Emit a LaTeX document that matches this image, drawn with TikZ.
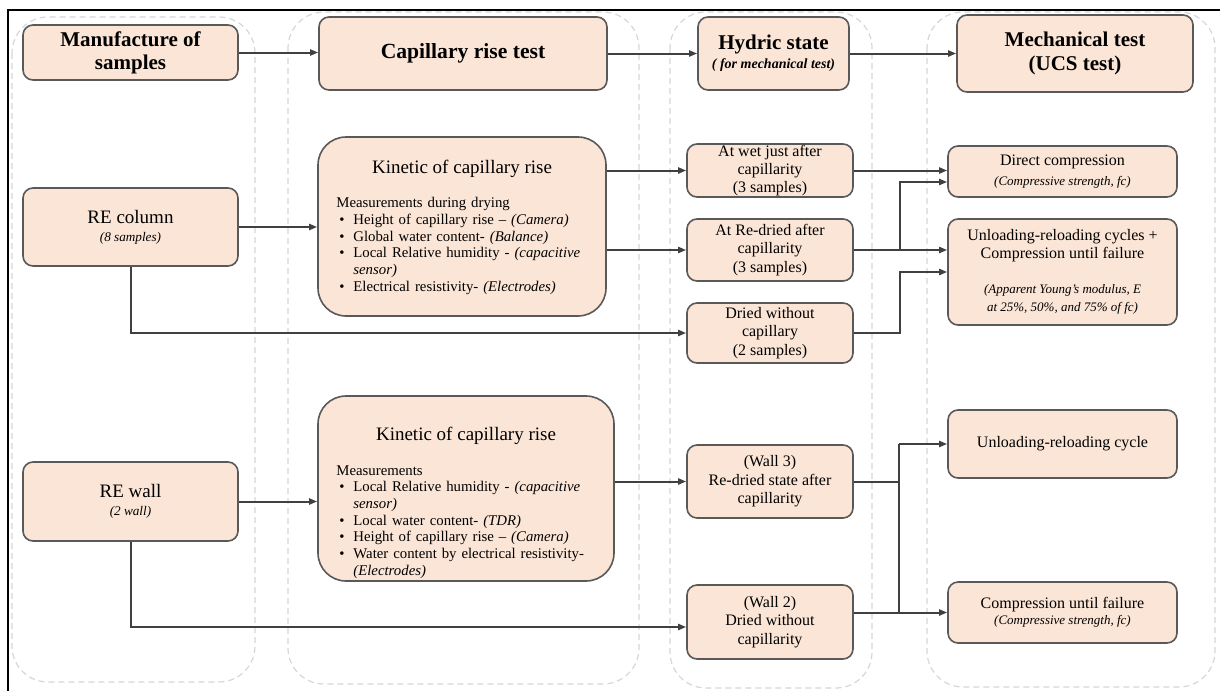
\documentclass[tikz,border=0pt]{standalone}
\usepackage{fontspec}
\setmainfont{Liberation Serif}
\usetikzlibrary{arrows.meta}
\definecolor{boxfill}{HTML}{FBE5D6}
\definecolor{boxline}{HTML}{595959}
\definecolor{arrcol}{HTML}{404040}
\definecolor{lanecol}{HTML}{D6D6D6}
\newcommand{\fs}[2]{\fontsize{#1}{#2}\selectfont}
\newcommand{\bitem}[1]{\par\noindent\hangindent=8.5pt\hangafter=1\makebox[8.5pt][l]{\hspace{1.5pt}\textbullet}#1}
\begin{document}
\begin{tikzpicture}[x=0.5pt,y=-0.5pt,
  box/.style={draw=boxline, fill=boxfill, line width=0.8pt, rounded corners=5pt, inner sep=0pt, align=center},
  bigbox/.style={box, rounded corners=14pt},
  arr/.style={draw=arrcol, line width=1pt, -{Triangle[length=4pt,width=3pt]}},
  ln/.style={draw=arrcol, line width=1pt},
  lane/.style={draw=lanecol, dash pattern=on 3pt off 2pt, line width=0.6pt, rounded corners=18pt},
  head/.style={font=\bfseries\fs{10.5}{11.5}},
  title/.style={font=\fs{9.5}{11}},
  small/.style={font=\fs{8}{9.2}},
  lst/.style={anchor=north west, inner sep=0pt, text width=135pt, align=left, font=\fs{7.4}{8.35}}
]
\useasboundingbox (0,0) rectangle (1220,691);
% lanes
\draw[lane] (12,17) rectangle (255,682);
\draw[lane] (288,12) rectangle (639,684);
\draw[lane] (670,12) rectangle (872,688);
\draw[lane] (927,12) rectangle (1215,687);
% frame
\draw[line width=1.2pt] (8,691) -- (8,10) -- (1220,10);

% header row
\node[box, head, minimum width=107.5pt, minimum height=27.5pt] (manu) at (130.5,52.5) {Manufacture of\\samples};
\node[box, minimum width=144pt, minimum height=36.5pt, font=\bfseries\fs{10.8}{12}] (cap) at (463,53.5) {Capillary rise test};
\node[box, minimum width=75.5pt, minimum height=36.5pt, font=\bfseries\fs{7}{9.5}] (hyd) at (773.5,53.5) {{\fs{10.5}{9.5}Hydric state}\\{\itshape ( for mechanical test)}};
\node[box, head, minimum width=118pt, minimum height=38.5pt, font=\bfseries\fs{10.5}{12}] (mech) at (1075,53.5) {Mechanical test\\(UCS test)};

% row 2
\node[box, minimum width=107.5pt, minimum height=39pt, font=\fs{9.5}{9}] (recol) at (130.5,227) {RE column\\{\itshape\fs{6.6}{9}(8 samples)}};
\node[bigbox, minimum width=144pt, minimum height=89.5pt] (kin1) at (462,226.5) {};
\node[title, inner sep=0pt] (kin1t) at (462,169) {Kinetic of capillary rise};
\node[lst] (kin1l) at (336,197) {Measurements during drying
\bitem{Height of capillary rise -- \textit{(Camera)}}
\bitem{Global water content- \textit{(Balance)}}
\bitem{Local Relative humidity - \textit{(capacitive}\newline\textit{sensor)}}
\bitem{Electrical resistivity- \textit{(Electrodes)}}\par};
\node[box, small, minimum width=83pt, minimum height=26.5pt] (wet) at (770,170.5) {At wet just after\\capillarity\\(3 samples)};
\node[box, small, minimum width=83pt, minimum height=31pt] (redried) at (770,250) {At Re-dried after\\capillarity\\(3 samples)};
\node[box, small, minimum width=83pt, minimum height=30pt] (dried) at (770,333) {Dried without\\capillary\\(2 samples)};
\node[box, minimum width=114.5pt, minimum height=25.5pt, font=\fs{8}{10}] (direct) at (1062.5,171.5) {Direct compression\\{\itshape\fs{6.5}{10}(Compressive strength, fc)}};
\node[box, minimum width=114.5pt, minimum height=53pt, font=\fs{8}{9}] (unl1) at (1062.5,272) {Unloading-reloading cycles +\\Compression until failure\\[8.5pt]{\itshape\fs{6.5}{9}(Apparent Young's modulus, E}\\{\itshape\fs{6.5}{9}at 25\%, 50\%, and 75\% of fc)}};

% row 3
\node[box, minimum width=107.5pt, minimum height=39.5pt, font=\fs{9.5}{9}] (rewall) at (130.5,501.5) {RE wall\\{\itshape\fs{6.6}{9}(2 wall)}};
\node[bigbox, minimum width=148pt, minimum height=92.5pt] (kin2) at (466,488.5) {};
\node[title, inner sep=0pt] (kin2t) at (466,436) {Kinetic of capillary rise};
\node[lst] (kin2l) at (336,465) {Measurements
\bitem{Local Relative humidity - \textit{(capacitive}\newline\textit{sensor)}}
\bitem{Local water content- \textit{(TDR)}}
\bitem{Height of capillary rise -- \textit{(Camera)}}
\bitem{Water content by electrical resistivity-\newline\textit{(Electrodes)}}\par};
\node[box, small, minimum width=83pt, minimum height=36.5pt] (wall3) at (770,481.5) {(Wall 3)\\Re-dried state after\\capillarity};
\node[box, small, minimum width=83pt, minimum height=37pt] (wall2) at (770,622) {(Wall 2)\\Dried without\\capillarity};
\node[box, small, minimum width=114.5pt, minimum height=34pt] (unl2) at (1062.5,444) {Unloading-reloading cycle};
\node[box, minimum width=114.5pt, minimum height=30.5pt, font=\fs{8}{8}] (comp) at (1062.5,612.5) {Compression until failure\\{\itshape\fs{6.5}{8}(Compressive strength, fc)}};

% junction coordinates
\coordinate (j1) at (900,0);
\coordinate (j2) at (899,0);

% connectors header
\draw[arr] (manu.east) -- (manu.east -| cap.west);
\draw[arr] (cap.east) -- (cap.east -| hyd.west);
\draw[arr] (hyd.east) -- (hyd.east -| mech.west);

% connectors row 2
\draw[arr] (recol.east) -- (recol.east -| kin1.west);
\draw[arr] (wet.west -| kin1.east) -- (wet.west);
\draw[arr] (redried.west -| kin1.east) -- (redried.west);
\draw[arr] (recol.south) |- (dried.west);
\draw[arr] (wet.east) -- (wet.east -| direct.west);
\draw[arr] (redried.east) -- (redried.east -| unl1.west);
\draw[arr] (redried.east -| j1) |- ([yshift=-5.25pt]direct.west);
\draw[arr] (dried.east) -- (dried.east -| j1) |- (unl1.west);

% connectors row 3
\draw[arr] (rewall.east) -- (rewall.east -| kin2.west);
\draw[arr] (wall3.west -| kin2.east) -- (wall3.west);
\draw[arr] (rewall.south) |- ([yshift=-2.5pt]wall2.west);
\draw[ln] (wall3.east) -- (wall3.east -| j2);
\draw[ln] (j2 |- unl2.west) -- (j2 |- comp.west);
\draw[arr] (j2 |- unl2.west) -- (unl2.west);
\draw[arr] (wall2.east |- comp.west) -- (comp.west);
\end{tikzpicture}
\end{document}
